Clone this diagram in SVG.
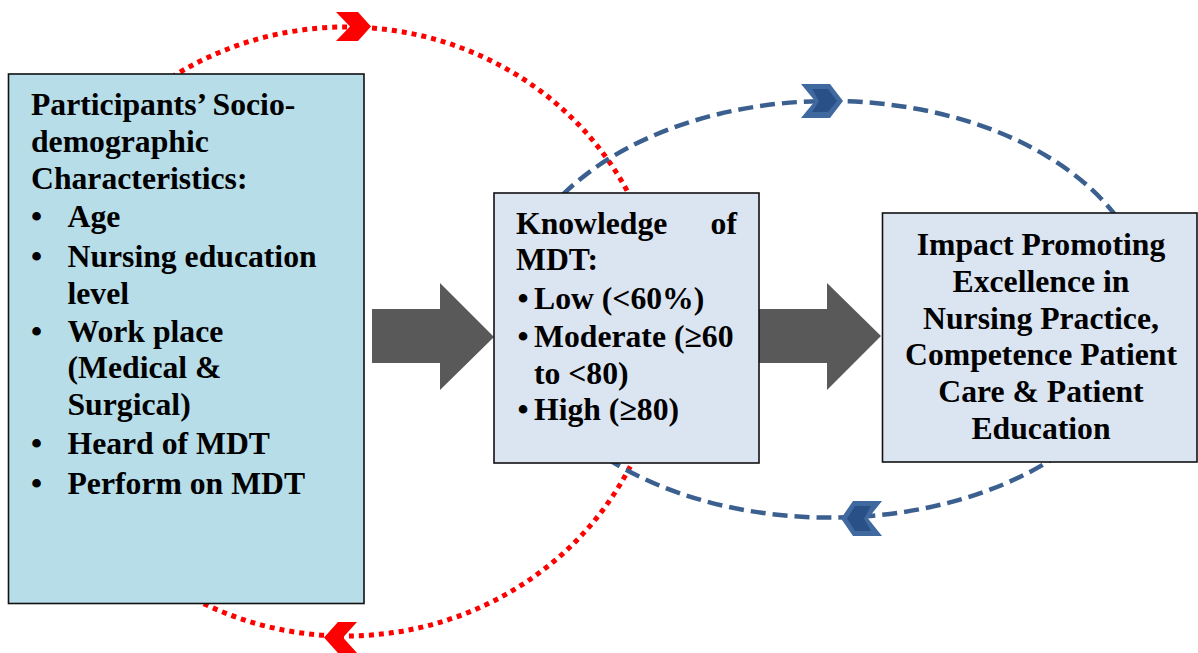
<svg xmlns="http://www.w3.org/2000/svg" width="1198" height="653" viewBox="0 0 1198 653">
<style>
text{font-family:'Liberation Serif','Times New Roman',serif;font-weight:700;font-size:31.7px;fill:#000}
.c{text-anchor:middle}
.box{stroke:#111;stroke-width:1.6}
.red{fill:none;stroke:#FF0000;stroke-width:5;stroke-dasharray:5 5}
.blue{fill:none;stroke:#3B6090;stroke-width:4.5;stroke-dasharray:15 7}
.garrow{fill:#595959}
</style>
<rect width="1198" height="653" fill="#fff"/>
<g id="connectors">
<ellipse class="red" cx="346" cy="331.5" rx="317" ry="304.5"/>
<ellipse class="blue" cx="830" cy="309.3" rx="320" ry="208.3"/>
<polygon fill="#FF0000" points="336,12 358,12 371,26.5 358,41 336,41 350,26.5"/>
<polygon fill="#FF0000" points="324,637.5 338,622 357,622 343,637.5 357,653 338,653"/>
<polygon fill="#4069A0" points="801,84 830,84 843,101 830,118 801,118 815,101"/>
<polygon fill="#2A5088" points="812,89 828,89 837,101 828,112 812,112 819,101"/>
<polygon fill="#4069A0" points="882,501 853,501 841,518.5 853,536 882,536 868,518.5"/>
<polygon fill="#2A5088" points="871,506 855,506 847,518.5 855,531 871,531 864,518.5"/>
<polygon class="garrow" points="372,309 440,309 440,283 494,337 440,390 440,363 372,363"/>
<polygon class="garrow" points="757,309 827,309 827,283 881,336 827,390 827,363 757,363"/>
</g>
<g id="node-sociodemographic">
<rect class="box" x="8.5" y="74" width="355.5" height="529.5" fill="#B7DDE8"/>
<text x="31" y="115">Participants’ Socio-</text>
<text x="31" y="152">demographic</text>
<text x="31" y="189">Characteristics:</text>
<text class="c" x="36.5" y="227">•</text><text x="67.5" y="227">Age</text>
<text class="c" x="36.5" y="266.5">•</text><text x="67.5" y="266.5">Nursing education</text>
<text x="67.5" y="303.5">level</text>
<text class="c" x="36.5" y="341.5">•</text><text x="67.5" y="341.5">Work place</text>
<text x="67.5" y="378">(Medical &amp;</text>
<text x="67.5" y="415">Surgical)</text>
<text class="c" x="36.5" y="453.5">•</text><text x="67.5" y="453.5">Heard of MDT</text>
<text class="c" x="36.5" y="493.5">•</text><text x="67.5" y="493.5">Perform on MDT</text>
</g>
<g id="node-knowledge">
<rect class="box" x="494" y="193" width="265" height="270" fill="#DBE5F1"/>
<text x="516" y="233.5">Knowledge</text>
<text x="737" y="233.5" text-anchor="end">of</text>
<text x="516" y="270">MDT:</text>
<text class="c" x="523" y="308.5">•</text><text x="534" y="308.5">Low (&lt;60%)</text>
<text class="c" x="523" y="346.5">•</text><text x="534" y="346.5">Moderate (≥60</text>
<text x="534" y="383.5">to &lt;80)</text>
<text class="c" x="523" y="420">•</text><text x="534" y="420">High (≥80)</text>
</g>
<g id="node-impact">
<rect class="box" x="882.5" y="213" width="314.5" height="249" fill="#DBE5F1"/>
<text class="c" x="1041" y="255">Impact Promoting</text>
<text class="c" x="1041" y="291.5">Excellence in</text>
<text class="c" x="1041" y="328.5">Nursing Practice,</text>
<text class="c" x="1041" y="365">Competence Patient</text>
<text class="c" x="1041" y="401.5">Care &amp; Patient</text>
<text class="c" x="1041" y="438.5">Education</text>
</g>
</svg>
